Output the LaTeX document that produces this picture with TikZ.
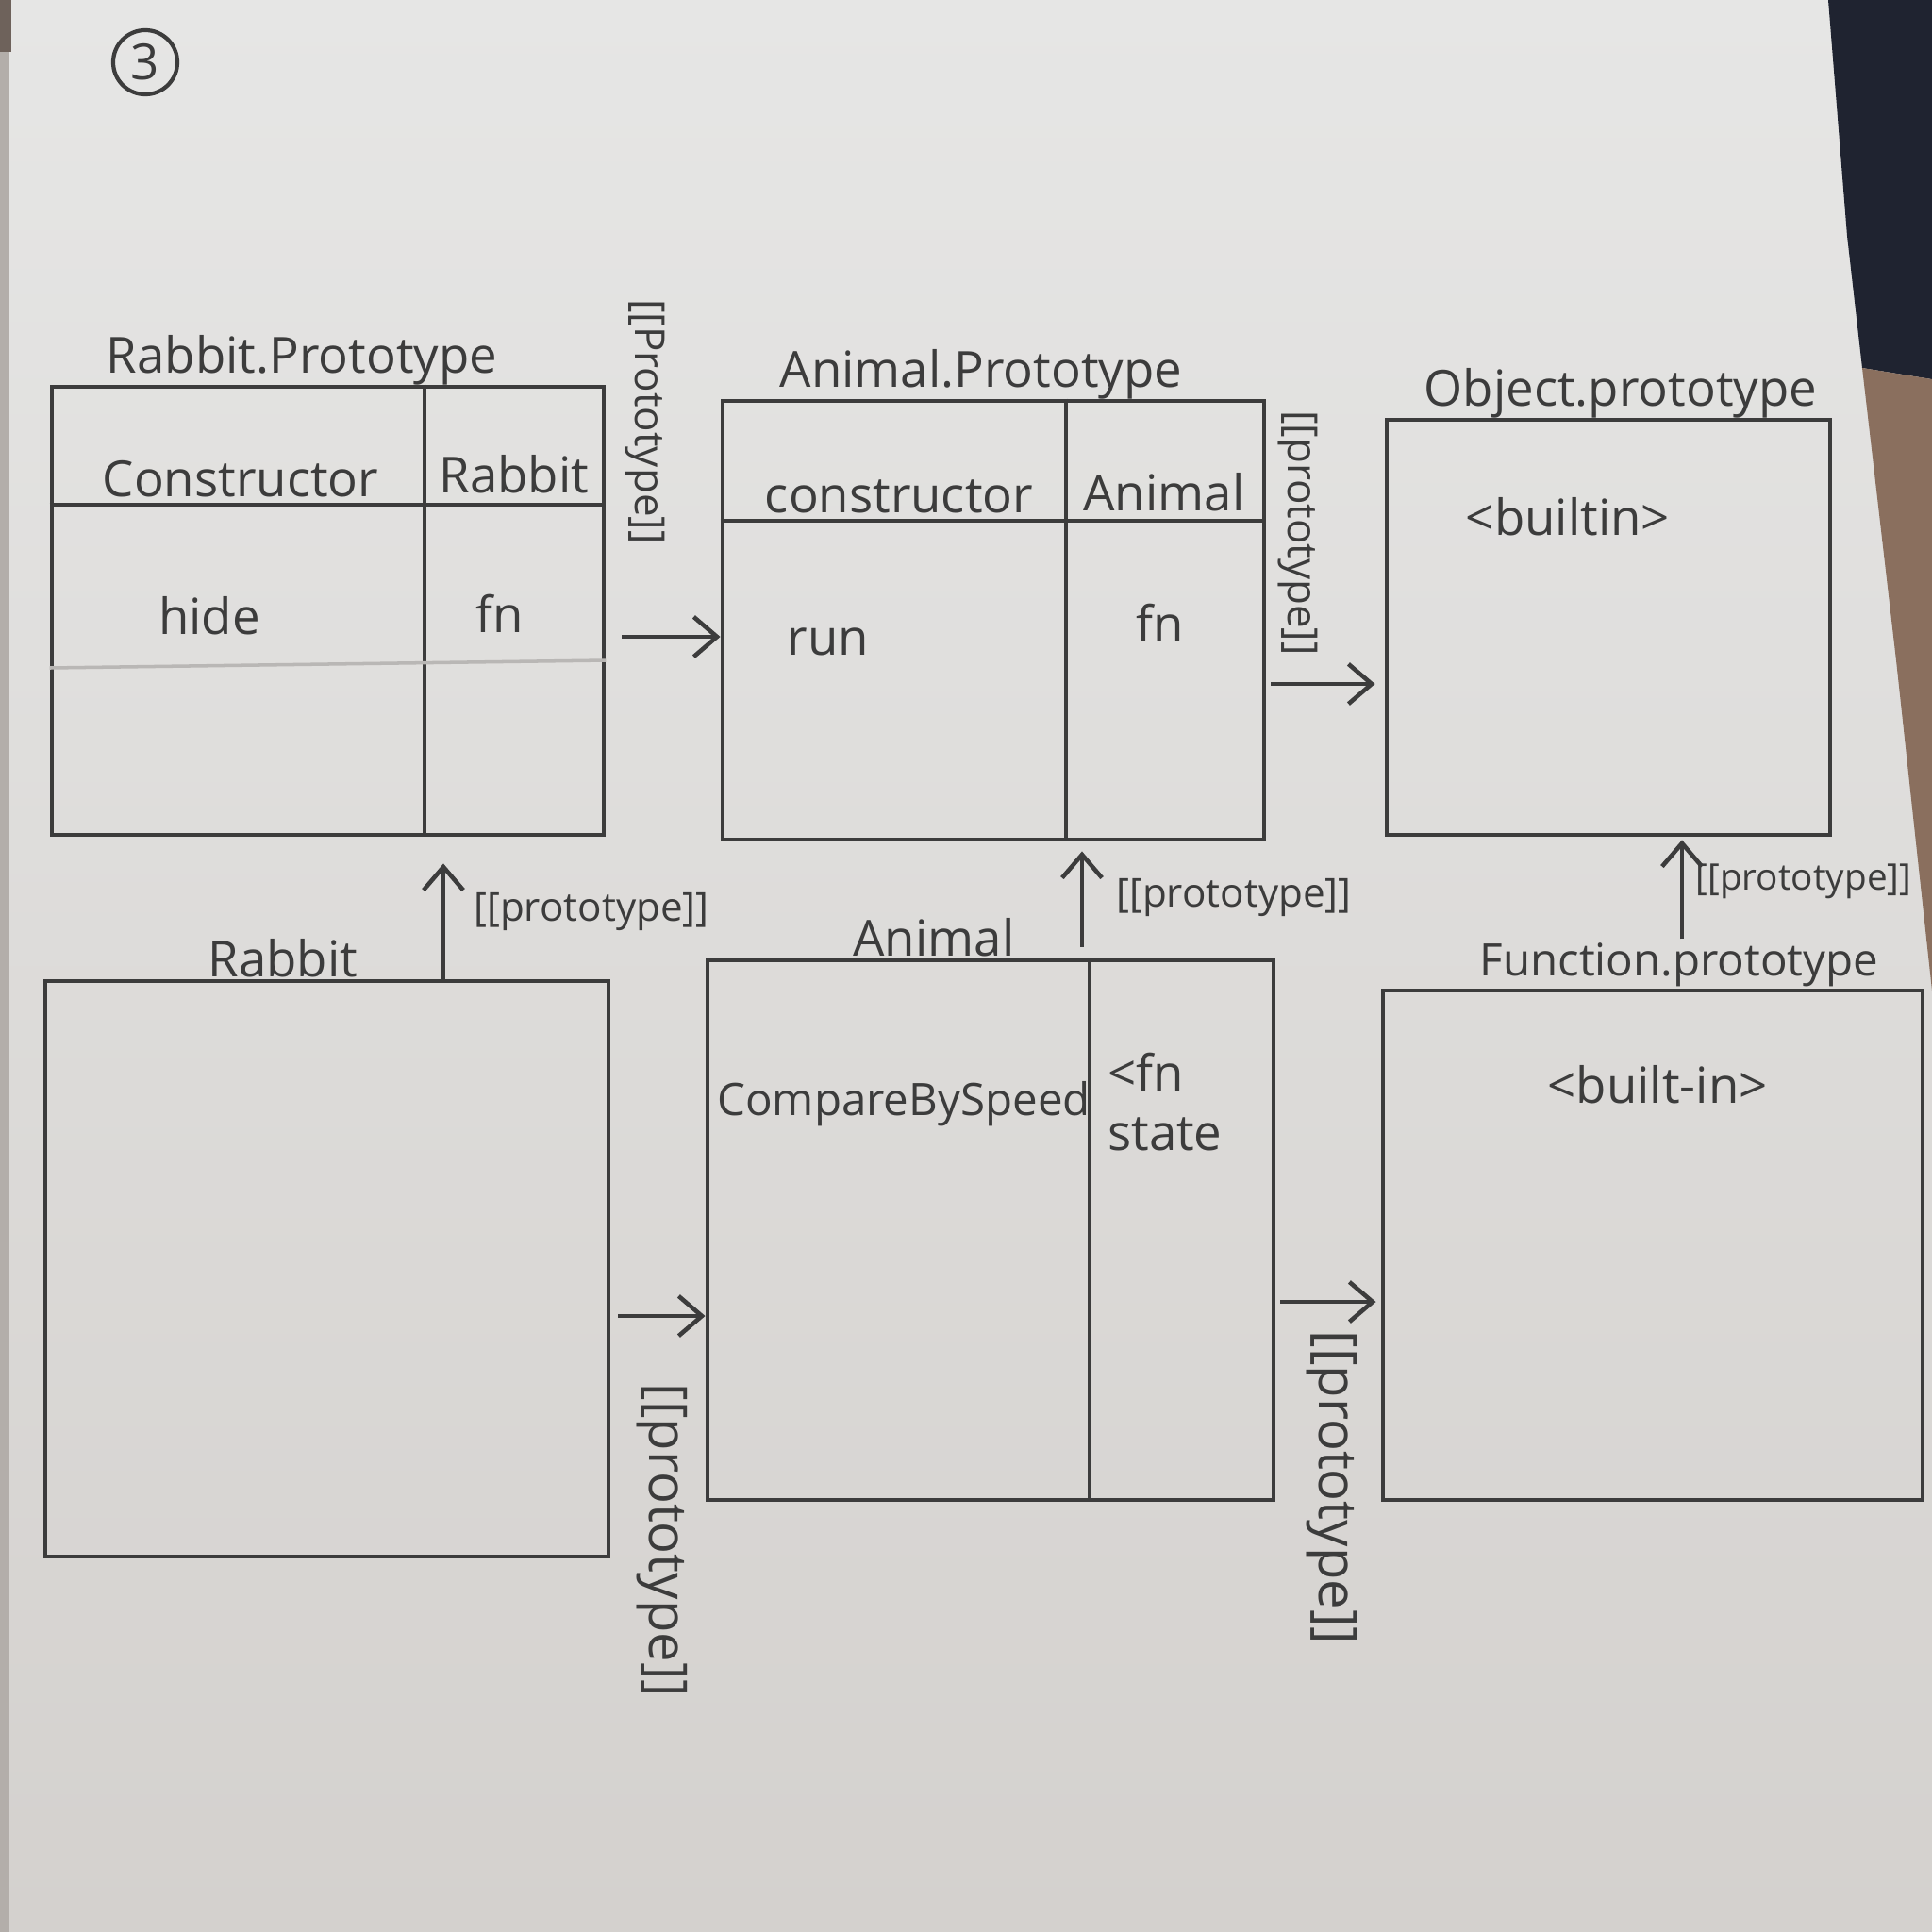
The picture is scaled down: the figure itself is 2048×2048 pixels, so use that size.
\documentclass[tikz,border=0pt]{standalone}
\usepackage{fontspec}
\setmainfont{Open Sans}
\usetikzlibrary{arrows.meta}
\definecolor{pencil}{HTML}{3C3C3C}
\definecolor{papertop}{HTML}{E6E6E5}
\definecolor{paperbot}{HTML}{D4D1CE}
\definecolor{desk}{HTML}{8A6F5E}
\definecolor{cloth}{HTML}{1F2330}
\definecolor{faint}{HTML}{B9B7B5}
\definecolor{edge}{HTML}{B3AEAA}
\definecolor{edgetop}{HTML}{6E625B}
\begin{document}
\begin{tikzpicture}[x=0.01cm,y=-0.01cm,
  ink/.style={draw=pencil, line width=1.3pt},
  frame/.style={ink, rectangle, inner sep=0pt},
  ttl/.style={text=pencil, font=\fontsize{15}{18}\selectfont, inner sep=1pt},
  cell/.style={text=pencil, font=\fontsize{15}{18}\selectfont, inner sep=1pt},
  lbl/.style={text=pencil, font=\fontsize{12.5}{15}\selectfont, inner sep=1pt},
  link/.style={draw=pencil, line width=1.3pt,
    -{Straight Barb[length=7pt,width=12pt,line width=1.3pt]}},
]
% sheet of paper and what lies around it
\useasboundingbox (0,0) rectangle (2048,2048);
\shade[top color=papertop, bottom color=paperbot] (0,0) rectangle (2048,2048);
\fill[cloth] (1938,0) -- (1958,250) -- (1974,390) -- (2048,402) -- (2048,0) -- cycle;
\fill[desk] (1974,390) -- (2010,700) -- (2048,1050) -- (2048,402) -- cycle;
\fill[edge] (0,0) rectangle (10,2048);
\fill[edgetop] (0,0) rectangle (12,55);

% page number
\node[draw=pencil, line width=1.2pt, circle, minimum size=0.68cm, inner sep=0pt,
      text=pencil, font=\fontsize{15}{18}\selectfont] (num) at (154,66) {3};

% ---------- upper row ----------
\node[frame, minimum width=5.85cm, minimum height=4.75cm] (rp) at (347.5,647.5) {};
\node[ttl, anchor=south] (rpt) at (320,412) {Rabbit.Prototype};
\draw[ink] (450,0 |- rp.north) -- (450,0 |- rp.south);
\draw[ink] (rp.west |- 0,535) -- (rp.east |- 0,535);
\draw[draw=faint, line width=1pt] (rp.west |- 0,708) -- (rp.east |- 0,700);
\node[cell] (rpc) at (255,508) {Constructor};
\node[cell] (rpv) at (545,503) {Rabbit};
\node[cell] (rph) at (222,653) {hide};
\node[cell] (rpf) at (530,650) {fn};

\node[frame, minimum width=5.74cm, minimum height=4.65cm] (ap) at (1053,657.5) {};
\node[ttl, anchor=south] (apt) at (1040,427) {Animal.Prototype};
\draw[ink] (1130,0 |- ap.north) -- (1130,0 |- ap.south);
\draw[ink] (ap.west |- 0,552) -- (ap.east |- 0,552);
\node[cell] (apc) at (953,526) {constructor};
\node[cell] (apv) at (1234,522) {Animal};
\node[cell] (apr) at (878,680) {run};
\node[cell] (apf) at (1230,660) {fn};

\node[frame, minimum width=4.70cm, minimum height=4.40cm] (op) at (1705,665) {};
\node[ttl, anchor=south] (opt) at (1718,447) {Object.prototype};
\node[cell] (opb) at (1662,548) {<builtin>};

% ---------- lower row ----------
\node[frame, minimum width=5.97cm, minimum height=6.10cm] (rb) at (346.5,1345) {};
\node[ttl, anchor=south] (rbt) at (300,1040) {Rabbit};

\node[frame, minimum width=6.00cm, minimum height=5.72cm] (an) at (1050,1304) {};
\node[ttl, anchor=south] (ant) at (990,1018) {Animal};
\draw[ink] (1155,0 |- an.north) -- (1155,0 |- an.south);
\node[cell, font=\fontsize{13.5}{16}\selectfont] (anc) at (958,1170) {CompareBySpeed};
\node[cell, align=left, anchor=west] (anv) at (1170,1168) {<fn\\state};

\node[frame, minimum width=5.72cm, minimum height=5.40cm] (fp) at (1752,1320) {};
\node[ttl, anchor=south, font=\fontsize{13.5}{16}\selectfont] (fpt) at (1780,1050) {Function.prototype};
\node[cell] (fpb) at (1757,1150) {<built-in>};

% ---------- [[prototype]] links ----------
\draw[link, shorten <=0.17cm] (rp.east |- 0,675) -- (ap.west |- 0,675);
\node[lbl, rotate=-90] (l1) at (684,447) {[[Prototype]]};

\draw[link, shorten <=0.05cm, shorten >=0.1cm] (ap.east |- 0,725) -- (op.west |- 0,725);
\node[lbl, rotate=-90] (l2) at (1376,565) {[[prototype]]};

\draw[link, shorten >=0.28cm] (470,0 |- rb.north) -- (470,0 |- rp.south);
\node[lbl, font=\fontsize{12}{14}\selectfont] (l3) at (627,966) {[[prototype]]};

\draw[link, shorten <=0.12cm, shorten >=0.1cm] (1147,0 |- an.north) -- (1147,0 |- ap.south);
\node[lbl, font=\fontsize{12}{14}\selectfont] (l4) at (1308,951) {[[prototype]]};

\draw[link, shorten >=0.03cm] (1783,0 |- fpt.north) -- (1783,0 |- op.south);
\node[lbl, font=\fontsize{11}{13}\selectfont] (l5) at (1912,934) {[[prototype]]};

\draw[link, shorten <=0.08cm] (rb.east |- 0,1395) -- (an.west |- 0,1395);
\node[lbl, rotate=-90, font=\fontsize{16}{19}\selectfont] (l6) at (702,1633) {[[prototype]]};

\draw[link, shorten <=0.05cm, shorten >=0.05cm] (an.east |- 0,1380) -- (fp.west |- 0,1380);
\node[lbl, rotate=-90, font=\fontsize{16}{19}\selectfont] (l7) at (1412,1577) {[[prototype]]};
\end{tikzpicture}
\end{document}
